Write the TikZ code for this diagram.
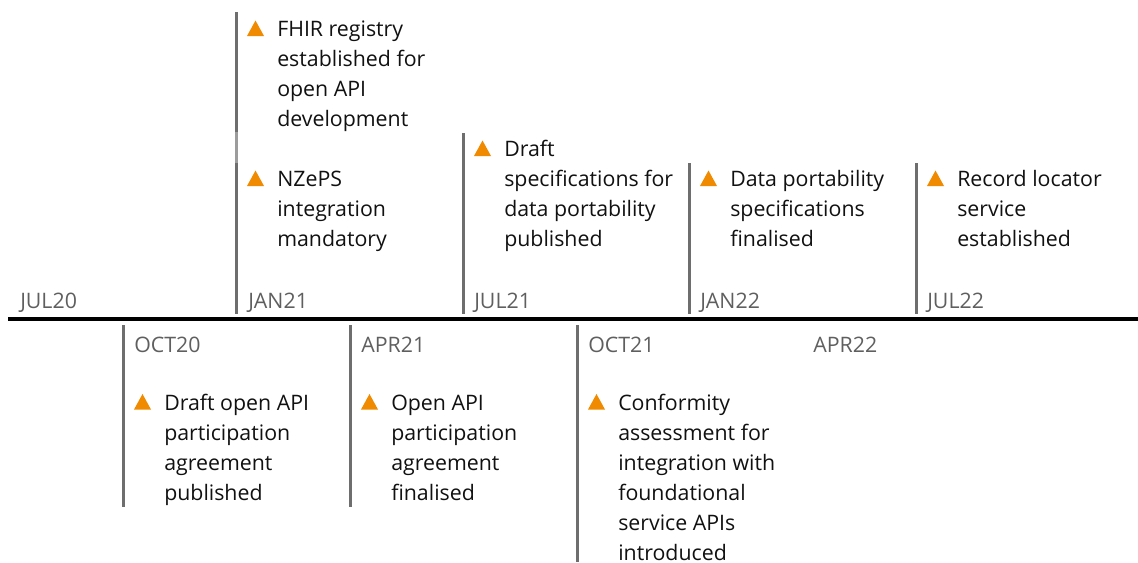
\documentclass[tikz,border=0pt]{standalone}
\usepackage{fontspec}
\setmainfont{Open Sans}
\definecolor{tickgray}{HTML}{6E6E6E}
\definecolor{tickgraylight}{HTML}{9C9C9C}
\definecolor{markorange}{HTML}{F08A00}
\definecolor{datecol}{HTML}{5F5F5F}
\definecolor{textcol}{HTML}{111111}
\newcommand\evtri[2]{\fill[markorange] (#1,#2) -- ++(17,0) -- ++(-8.5,-15.5) -- cycle;}
\begin{document}
\begin{tikzpicture}[x=0.75pt,y=-0.75pt,
  evtext/.style={anchor=north west,inner sep=0pt,align=left,text=textcol,font=\fontsize{16}{22.5}\selectfont},
  datelbl/.style={anchor=base west,inner sep=0pt,text=datecol,font=\fontsize{16}{22.5}\selectfont},
  tickline/.style={draw=tickgray,line width=2.25pt},
  axisline/.style={draw=black,line width=3pt}]
\useasboundingbox (0,0) rectangle (1138,562);
% axis
\coordinate (axL) at (8,319);
\coordinate (axR) at (1138,319);
\draw[axisline] (axL) -- (axR);
% upper ticks
\draw[tickline] (236,12) -- (236,132);
\draw[tickline,draw=tickgraylight] (236,132) -- (236,163);
\draw[tickline] (236,163) -- (236,314);
\draw[tickline] (463,133) -- (463,314);
\draw[tickline] (689,163) -- (689,314);
\draw[tickline] (916,163) -- (916,314);
% lower ticks
\draw[tickline] (123,325) -- (123,507);
\draw[tickline] (350,325) -- (350,507);
\draw[tickline] (577,325) -- (577,562);
% date labels
\node[datelbl] (jul20) at (20,308) {JUL20};
\node[datelbl] (jan21) at (248,308) {JAN21};
\node[datelbl] (jul21) at (474,308) {JUL21};
\node[datelbl] (jan22) at (700,308) {JAN22};
\node[datelbl] (jul22) at (927,308) {JUL22};
\node[datelbl] (oct20) at (134,352) {OCT20};
\node[datelbl] (apr21) at (361,352) {APR21};
\node[datelbl] (oct21) at (588,352) {OCT21};
\node[datelbl] (apr22) at (813,352) {APR22};
% events upper
\evtri{247}{36}
\node[evtext] (fhir) at (277,15) {\strut FHIR registry\\established for\\open API\\development};
\evtri{247}{186}
\node[evtext] (nzeps) at (277,165) {\strut NZePS\\integration\\mandatory};
\evtri{474}{156}
\node[evtext] (draftspec) at (504,135) {\strut Draft\\specifications for\\data portability\\published};
\evtri{700}{186}
\node[evtext] (dataport) at (730,165) {\strut Data portability\\specifications\\finalised};
\evtri{927}{186}
\node[evtext] (recloc) at (957,165) {\strut Record locator\\service\\established};
% events lower
\evtri{134}{409.5}
\node[evtext] (draftapi) at (164,389) {\strut Draft open API\\participation\\agreement\\published};
\evtri{361}{409.5}
\node[evtext] (openapi) at (391,389) {\strut Open API\\participation\\agreement\\finalised};
\evtri{588}{409.5}
\node[evtext] (conform) at (618,389) {\strut Conformity\\assessment for\\integration with\\foundational\\service APIs\\introduced};
\end{tikzpicture}
\end{document}
